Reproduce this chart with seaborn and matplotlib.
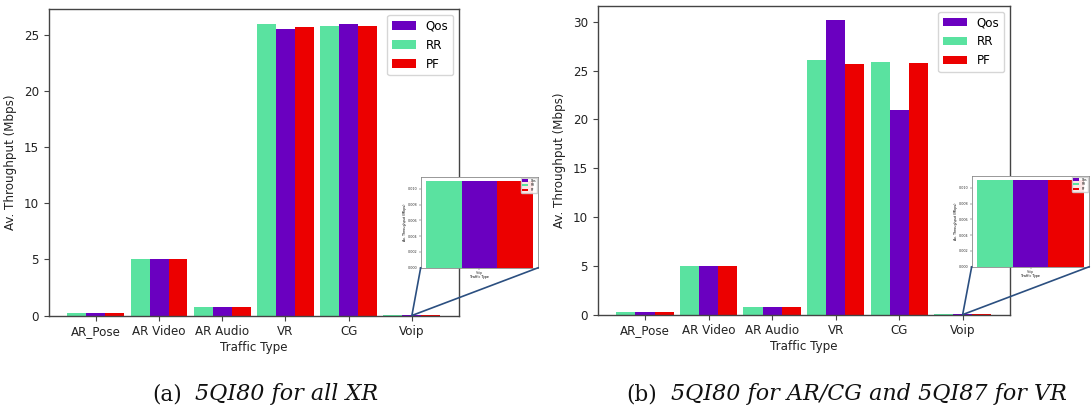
import matplotlib
matplotlib.use("Agg")
import matplotlib.pyplot as plt
import pandas as pd
import seaborn as sns
from matplotlib.patches import ConnectionPatch

categories = ["AR_Pose", "AR Video", "AR Audio", "VR", "CG", "Voip"]
schedulers = ["RR", "Qos", "PF"]          # bar order inside each group
legend_order = ["Qos", "RR", "PF"]        # order shown in the legend

# (a) 5QI80 for all XR
rr_a = [0.22, 5.0, 0.80, 25.98, 25.80, 0.011]
qos_a = [0.22, 5.0, 0.80, 25.47, 25.95, 0.011]
pf_a = [0.22, 5.0, 0.80, 25.65, 25.75, 0.011]

# (b) 5QI80 for AR/CG and 5QI87 for VR
rr_b = [0.27, 5.02, 0.82, 26.04, 25.84, 0.011]
qos_b = [0.27, 5.02, 0.82, 30.14, 20.96, 0.011]
pf_b = [0.27, 5.02, 0.82, 25.70, 25.77, 0.011]

inset_ticks = [0.000, 0.002, 0.004, 0.006, 0.008, 0.010]

captions = [("(a)", "5QI80 for all XR"),
            ("(b)", "5QI80 for AR/CG and 5QI87 for VR")]

palette = {"Qos": "#6a00c0", "RR": "#5ae2a0", "PF": "#ec0000"}
spine_col = "#444444"
link_col = "#2b4f80"
FS = 8.6


def to_frame(rr, qos, pf):
    rows = []
    for name, vals in (("RR", rr), ("Qos", qos), ("PF", pf)):
        for cat, v in zip(categories, vals):
            rows.append({"Traffic Type": cat, "Scheduler": name, "Throughput": v})
    return pd.DataFrame(rows)


def ordered_legend(ax, **kw):
    h, l = ax.get_legend_handles_labels()
    lut = dict(zip(l, h))
    return ax.legend([lut[k] for k in legend_order], legend_order, **kw)


W, H = 1092, 415
fig = plt.figure(figsize=(W / 100, H / 100), dpi=100)

panels = [
    (to_frame(rr_a, qos_a, pf_a),
     [48.7, 9.0, 459.0, 315.5], [420.7, 176.7, 538.3, 267.7], (182, 195)),
    (to_frame(rr_b, qos_b, pf_b),
     [597.7, 5.7, 1010.0, 314.6], [971.7, 175.7, 1089.3, 266.7], (657, 671)),
]


def px_rect(x0, y0, x1, y1):
    return [x0 / W, (H - y1) / H, (x1 - x0) / W, (y1 - y0) / H]


for (df, main_px, ins_px, cap_x), (tag, text) in zip(panels, captions):
    ax = fig.add_axes(px_rect(*main_px))
    sns.barplot(data=df, x="Traffic Type", y="Throughput", hue="Scheduler",
                order=categories, hue_order=schedulers, palette=palette,
                width=0.9, saturation=1, errorbar=None, linewidth=0, ax=ax)
    n = len(categories)
    ax.set_xlim(-0.45 - 0.295, n - 1 + 0.45 + 0.295)
    ax.set_ylim(bottom=0)
    ax.set_xlabel("Traffic Type", fontsize=FS, color="#222222", labelpad=2)
    ax.set_ylabel("Av. Throughput (Mbps)", fontsize=FS, color="#222222",
                  labelpad=5)
    ax.tick_params(labelsize=FS, colors="#222222", color=spine_col)
    for s in ax.spines.values():
        s.set_color(spine_col)
        s.set_linewidth(1.0)
    ordered_legend(ax, loc="upper right", fontsize=FS, frameon=True)

    # zoomed view of the Voip group
    axins = fig.add_axes(px_rect(*ins_px))
    voip = df[df["Traffic Type"] == "Voip"]
    sns.barplot(data=voip, x="Traffic Type", y="Throughput", hue="Scheduler",
                order=["Voip"], hue_order=schedulers, palette=palette,
                width=0.9, saturation=1, errorbar=None, linewidth=0, ax=axins)
    axins.set_xlim(-0.495, 0.495)
    axins.set_ylim(0, voip["Throughput"].max() * 1.05)
    axins.set_yticks(inset_ticks)
    axins.set_yticklabels([f"{t:.3f}" for t in inset_ticks])
    axins.tick_params(labelsize=2.4, length=1.2, width=0.3, pad=1,
                      colors="#333333")
    axins.set_xlabel("Traffic Type", fontsize=2.4, labelpad=0.5)
    axins.set_ylabel("Av. Throughput (Mbps)", fontsize=2.4, labelpad=1)
    for s in axins.spines.values():
        s.set_color("#888888")
        s.set_linewidth(0.6)
    ordered_legend(axins, loc="upper right", fontsize=2.2, frameon=True,
                   handlelength=2.0, borderpad=0.3, labelspacing=0.2,
                   borderaxespad=0.3, framealpha=0.9)

    # lines tying the Voip tick to the zoomed view
    vx = categories.index("Voip")
    for corner in ((0, 0), (1, 0)):
        con = ConnectionPatch(xyA=(vx, 0), coordsA=ax.transData,
                              xyB=corner, coordsB=axins.transAxes,
                              color=link_col, lw=1.2)
        fig.add_artist(con)

    base_y = (H - 400) / H
    fig.text(cap_x[0] / W, base_y, tag, ha="right", va="baseline",
             family="DejaVu Serif", fontsize=15.5, color="#111111")
    fig.text(cap_x[1] / W, base_y, text, ha="left", va="baseline",
             family="DejaVu Serif", style="italic", fontsize=16,
             color="#111111")

fig.savefig("out.png", dpi=100, facecolor="white")
